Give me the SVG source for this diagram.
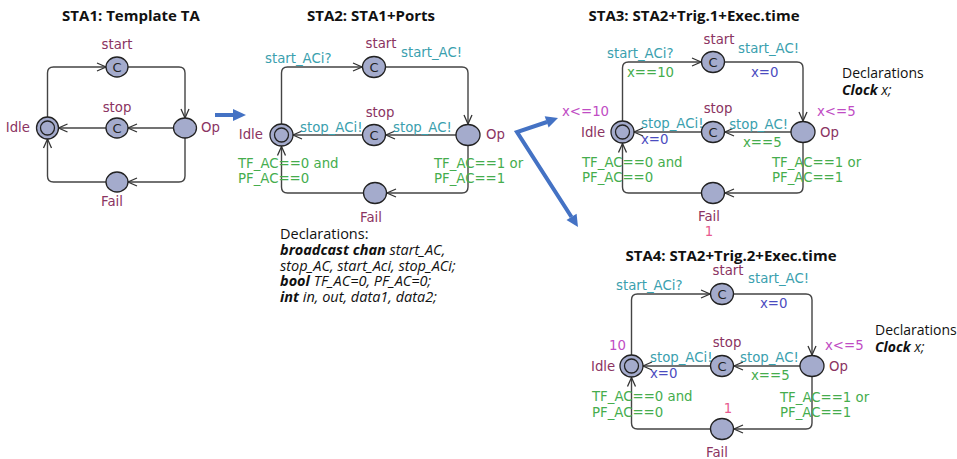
<svg xmlns="http://www.w3.org/2000/svg" width="957" height="459" viewBox="0 0 957 459">
  <defs>
    <marker id="vee" markerUnits="userSpaceOnUse" markerWidth="12" markerHeight="10" refX="9" refY="4" orient="auto" overflow="visible">
      <path d="M0,0 L9,4 L0,8" fill="none" stroke="#333" stroke-width="1.3"/>
    </marker>
  </defs>
  <style>
    .title { font-family: "Open Sans", "DejaVu Sans", sans-serif; font-weight: bold; font-size: 15px; fill: #111; }
    .lbl { font-family: "DejaVu Sans", sans-serif; font-size: 13.3px; }
    .loc { fill: #8b3462; }
    .sync { fill: #3aa0ae; }
    .guard { fill: #45ad4d; }
    .upd { fill: #4b4cc0; }
    .inv { fill: #c04cc4; }
    .cost { fill: #e85a90; }
    .c { text-anchor: middle; }
    .e { text-anchor: end; }
    .node { fill: #a4abcc; stroke: #222; stroke-width: 1.3; }
    .inner { fill: none; stroke: #222; stroke-width: 1.3; }
    .cm { font-family: "DejaVu Sans", sans-serif; font-size: 13px; fill: #222; text-anchor: middle; }
    .edge { fill: none; stroke: #444; stroke-width: 1.4; marker-end: url(#vee); }
    .decl { font-family: "Open Sans", "DejaVu Sans", sans-serif; font-size: 14.5px; fill: #111; }
    .decl2 { font-family: "Open Sans", "DejaVu Sans", sans-serif; font-size: 14px; fill: #111; }
    .kw { font-weight: bold; font-style: italic; }
    .it { font-style: italic; }
    .blue { fill: none; stroke: #4472c4; stroke-width: 4; }
    .bluehead { fill: #4472c4; }
  </style>

  <!-- ===== STA1 ===== -->
  <text class="title" x="131" y="21" text-anchor="middle">STA1: Template TA</text>
  <g id="sta1-edges">
    <path class="edge" d="M47.5,117 V73 Q47.5,67 53.5,67 H106"/>
    <path class="edge" d="M128,67 H179 Q185,67 185,73 V118"/>
    <path class="edge" d="M173.5,128 H128"/>
    <path class="edge" d="M106,128 H58.5"/>
    <path class="edge" d="M185,138 V176 Q185,182 179,182 H128"/>
    <path class="edge" d="M106,182 H53.5 Q47.5,182 47.5,176 V139"/>
  </g>
  <g id="sta1-idle"><ellipse class="node" cx="47.5" cy="128" rx="11" ry="11"/><circle class="inner" cx="47.5" cy="128" r="7"/><text class="lbl loc e" x="30" y="132">Idle</text></g>
  <g id="sta1-start"><ellipse class="node" cx="117" cy="67" rx="11" ry="10"/><text class="cm" x="117" y="72">C</text><text class="lbl loc c" x="117" y="49">start</text></g>
  <g id="sta1-stop"><ellipse class="node" cx="117" cy="128" rx="11" ry="10"/><text class="cm" x="117" y="133">C</text><text class="lbl loc c" x="117" y="112">stop</text></g>
  <g id="sta1-op"><ellipse class="node" cx="185" cy="128" rx="11.5" ry="10"/><text class="lbl loc" x="201" y="132">Op</text></g>
  <g id="sta1-fail"><ellipse class="node" cx="117" cy="182" rx="11" ry="10"/><text class="lbl loc c" x="112" y="206">Fail</text></g>

  <!-- ===== STA2 ===== -->
  <text class="title" x="371" y="21" text-anchor="middle">STA2: STA1+Ports</text>
  <g id="sta2-edges">
    <path class="edge" d="M281.5,124 V73 Q281.5,67 287.5,67 H362"/>
    <path class="edge" d="M385.5,67 H462 Q468,67 468,73 V124"/>
    <path class="edge" d="M456.5,135 H386"/>
    <path class="edge" d="M362.5,135 H293"/>
    <path class="edge" d="M468,145.5 V187 Q468,193 462,193 H387"/>
    <path class="edge" d="M363.5,193 H287.5 Q281.5,193 281.5,187 V146.5"/>
  </g>
  <g id="sta2-labels">
    <text class="lbl sync" x="265" y="63">start_ACi?</text>
    <text class="lbl sync" x="401" y="57">start_AC!</text>
    <text class="lbl sync" x="300" y="132">stop_ACi!</text>
    <text class="lbl sync" x="393" y="132">stop_AC!</text>
    <text class="lbl guard" x="238" y="168">TF_AC==0 and</text>
    <text class="lbl guard" x="238" y="183">PF_AC==0</text>
    <text class="lbl guard" x="434" y="168">TF_AC==1 or</text>
    <text class="lbl guard" x="434" y="183">PF_AC==1</text>
  </g>
  <g id="sta2-idle"><ellipse class="node" cx="281.5" cy="135" rx="11.5" ry="11"/><circle class="inner" cx="281.5" cy="135" r="7"/><text class="lbl loc e" x="263" y="139">Idle</text></g>
  <g id="sta2-start"><ellipse class="node" cx="374" cy="67" rx="11.5" ry="10.5"/><text class="cm" x="374" y="72">C</text><text class="lbl loc c" x="381" y="48">start</text></g>
  <g id="sta2-stop"><ellipse class="node" cx="374" cy="135" rx="11.5" ry="10.5"/><text class="cm" x="374" y="140">C</text><text class="lbl loc c" x="380" y="117">stop</text></g>
  <g id="sta2-op"><ellipse class="node" cx="468" cy="135" rx="12" ry="10.5"/><text class="lbl loc" x="486" y="139">Op</text></g>
  <g id="sta2-fail"><ellipse class="node" cx="375" cy="193" rx="11.5" ry="10.5"/><text class="lbl loc c" x="371" y="222">Fail</text></g>
  <text class="decl">
    <tspan x="280" y="239">Declarations:</tspan>
    <tspan x="280" y="255"><tspan class="kw">broadcast chan</tspan><tspan class="it"> start_AC,</tspan></tspan>
    <tspan x="280" y="270.5" class="it">stop_AC, start_Aci, stop_ACi;</tspan>
    <tspan x="280" y="286"><tspan class="kw">bool</tspan><tspan class="it"> TF_AC=0, PF_AC=0;</tspan></tspan>
    <tspan x="280" y="301.5"><tspan class="kw">int</tspan><tspan class="it"> in, out, data1, data2;</tspan></tspan>
  </text>

  <!-- ===== STA3 ===== -->
  <text class="title" x="694" y="21" text-anchor="middle">STA3: STA2+Trig.1+Exec.time</text>
  <g id="sta3-edges">
    <path class="edge" d="M622.5,121 V68 Q622.5,62 628.5,62 H701"/>
    <path class="edge" d="M724.5,62 H797 Q803,62 803,68 V121"/>
    <path class="edge" d="M791,132 H725"/>
    <path class="edge" d="M701.5,132 H634"/>
    <path class="edge" d="M803,142.5 V187 Q803,193 797,193 H725"/>
    <path class="edge" d="M701.5,193 H628.5 Q622.5,193 622.5,187 V143.5"/>
  </g>
  <g id="sta3-labels">
    <text class="lbl sync" x="607" y="58">start_ACi?</text>
    <text class="lbl guard" x="627" y="77">x==10</text>
    <text class="lbl sync" x="738" y="53">start_AC!</text>
    <text class="lbl upd" x="751" y="77">x=0</text>
    <text class="lbl inv" x="562" y="116">x&lt;=10</text>
    <text class="lbl sync" x="641" y="128">stop_ACi!</text>
    <text class="lbl upd" x="641" y="144">x=0</text>
    <text class="lbl sync" x="788" y="129" text-anchor="end">stop_AC!</text>
    <text class="lbl guard" x="743" y="147">x==5</text>
    <text class="lbl inv" x="817" y="116">x&lt;=5</text>
    <text class="lbl guard" x="582" y="167">TF_AC==0 and</text>
    <text class="lbl guard" x="582" y="182">PF_AC==0</text>
    <text class="lbl guard" x="772" y="167">TF_AC==1 or</text>
    <text class="lbl guard" x="772" y="182">PF_AC==1</text>
    <text class="lbl cost c" x="709" y="236">1</text>
  </g>
  <g id="sta3-idle"><ellipse class="node" cx="622.5" cy="132" rx="11.5" ry="11"/><circle class="inner" cx="622.5" cy="132" r="7"/><text class="lbl loc" x="581" y="137">Idle</text></g>
  <g id="sta3-start"><ellipse class="node" cx="713" cy="62" rx="11.5" ry="10.5"/><text class="cm" x="713" y="67">C</text><text class="lbl loc c" x="719" y="44">start</text></g>
  <g id="sta3-stop"><ellipse class="node" cx="713" cy="132" rx="11.5" ry="10.5"/><text class="cm" x="713" y="137">C</text><text class="lbl loc c" x="718" y="113">stop</text></g>
  <g id="sta3-op"><ellipse class="node" cx="803" cy="132" rx="12" ry="10.5"/><text class="lbl loc" x="820" y="137">Op</text></g>
  <g id="sta3-fail"><ellipse class="node" cx="713" cy="193" rx="11.5" ry="10.5"/><text class="lbl loc c" x="709" y="221">Fail</text></g>
  <text class="decl2">
    <tspan x="842" y="78">Declarations</tspan>
    <tspan x="842" y="95"><tspan class="kw">Clock</tspan><tspan class="it"> x;</tspan></tspan>
  </text>

  <!-- ===== STA4 ===== -->
  <text class="title" x="731" y="261" text-anchor="middle">STA4: STA2+Trig.2+Exec.time</text>
  <g id="sta4-edges">
    <path class="edge" d="M631.5,355 V300 Q631.5,294 637.5,294 H710"/>
    <path class="edge" d="M733.5,294 H806 Q812,294 812,300 V355"/>
    <path class="edge" d="M800,366 H734"/>
    <path class="edge" d="M710.5,366 H643"/>
    <path class="edge" d="M812,376.5 V423 Q812,429 806,429 H734"/>
    <path class="edge" d="M710.5,429 H637.5 Q631.5,429 631.5,423 V377.5"/>
  </g>
  <g id="sta4-labels">
    <text class="lbl sync" x="616" y="290">start_ACi?</text>
    <text class="lbl sync" x="748" y="283">start_AC!</text>
    <text class="lbl upd" x="760" y="308">x=0</text>
    <text class="lbl inv" x="609" y="350">10</text>
    <text class="lbl sync" x="650" y="362">stop_ACi!</text>
    <text class="lbl upd" x="650" y="378">x=0</text>
    <text class="lbl sync" x="740" y="362">stop_AC!</text>
    <text class="lbl guard" x="751" y="380">x==5</text>
    <text class="lbl inv" x="825" y="350">x&lt;=5</text>
    <text class="lbl guard" x="592" y="401">TF_AC==0 and</text>
    <text class="lbl guard" x="592" y="417">PF_AC==0</text>
    <text class="lbl guard" x="780" y="402">TF_AC==1 or</text>
    <text class="lbl guard" x="780" y="417">PF_AC==1</text>
    <text class="lbl cost c" x="728" y="413">1</text>
  </g>
  <g id="sta4-idle"><ellipse class="node" cx="631.5" cy="366" rx="11.5" ry="11"/><circle class="inner" cx="631.5" cy="366" r="7"/><text class="lbl loc" x="591" y="371">Idle</text></g>
  <g id="sta4-start"><ellipse class="node" cx="722" cy="294" rx="11.5" ry="10.5"/><text class="cm" x="722" y="299">C</text><text class="lbl loc c" x="728" y="275">start</text></g>
  <g id="sta4-stop"><ellipse class="node" cx="722" cy="366" rx="11.5" ry="10.5"/><text class="cm" x="722" y="371">C</text><text class="lbl loc c" x="727" y="347">stop</text></g>
  <g id="sta4-op"><ellipse class="node" cx="812" cy="366" rx="12" ry="10.5"/><text class="lbl loc" x="829" y="371">Op</text></g>
  <g id="sta4-fail"><ellipse class="node" cx="722" cy="429" rx="11.5" ry="10.5"/><text class="lbl loc c" x="717" y="456.5">Fail</text></g>
  <text class="decl2">
    <tspan x="875" y="335">Declarations</tspan>
    <tspan x="875" y="352"><tspan class="kw">Clock</tspan><tspan class="it"> x;</tspan></tspan>
  </text>

  <!-- ===== derivation arrows ===== -->
  <g id="derivation-arrows">
    <path class="blue" d="M215,115 H234"/>
    <polygon class="bluehead" points="246,115 233,109 233,121"/>
    <path class="blue" d="M547,122 L517,132 L571.5,217" stroke-linejoin="miter"/>
    <polygon class="bluehead" points="558,118 548.6,127.6 544.7,116.2"/>
    <polygon class="bluehead" points="578,227 576.6,213.7 566.5,220.1"/>
  </g>
</svg>
